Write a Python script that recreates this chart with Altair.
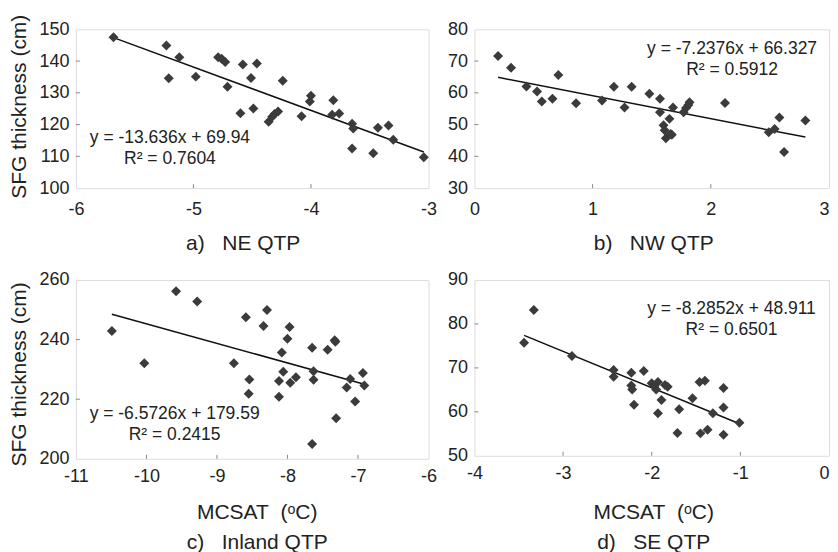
import altair as alt
import pandas as pd

FONT = "Liberation Sans"
INK = "#222222"
PT = "#3b3b3b"
NB = "\u00a0"

# ---- data ----
a_x = [-5.68, -5.23, -5.21, -5.12, -4.98, -4.79, -4.76, -4.73, -4.71, -4.60, -4.58,
       -4.51, -4.49, -4.46, -4.36, -4.33, -4.31, -4.28, -4.24, -4.08, -4.00, -4.01,
       -3.81, -3.82, -3.76, -3.65, -3.64, -3.65, -3.47, -3.43, -3.34, -3.30, -3.04]
a_y = [147.5, 144.9, 134.6, 141.2, 135.1, 141.2, 140.7, 139.7, 131.9, 123.6, 138.9,
       134.7, 125.1, 139.2, 120.9, 122.5, 123.3, 124.1, 133.8, 122.6, 129.1, 127.3,
       127.7, 123.1, 123.5, 120.3, 118.8, 112.5, 111.0, 119.0, 119.7, 115.2, 109.7]

b_x = [0.20, 0.31, 0.44, 0.53, 0.57, 0.66, 0.71, 0.86, 1.08, 1.18, 1.27, 1.33, 1.48,
       1.57, 1.57, 1.60, 1.61, 1.62, 1.65, 1.66, 1.67, 1.68, 1.77, 1.79, 1.81, 1.82,
       2.12, 2.49, 2.54, 2.58, 2.62, 2.80]
b_y = [71.6, 67.9, 62.0, 60.4, 57.3, 58.1, 65.6, 56.7, 57.6, 61.9, 55.4, 61.9, 59.7,
       58.1, 53.9, 49.8, 48.2, 45.7, 51.8, 47.0, 46.8, 55.4, 53.9, 55.2, 56.2, 57.0,
       56.8, 47.6, 48.6, 52.2, 41.4, 51.3]

c_x = [-10.49, -10.03, -9.58, -9.28, -8.76, -8.59, -8.54, -8.55, -8.34, -8.29, -8.12,
       -8.12, -8.08, -8.06, -8.00, -7.97, -7.96, -7.88, -7.65, -7.63, -7.63, -7.65,
       -7.43, -7.33, -7.32, -7.31, -7.16, -7.11, -7.04, -6.93, -6.91]
c_y = [242.9, 232.1, 256.2, 252.8, 232.1, 247.5, 226.6, 221.8, 244.6, 249.9, 226.1,
       220.8, 235.7, 229.2, 240.3, 244.2, 225.5, 227.4, 237.3, 229.4, 226.5, 205.0,
       236.6, 239.8, 239.3, 213.6, 223.9, 226.8, 219.2, 228.8, 224.6]

d_x = [-3.44, -3.33, -2.90, -2.43, -2.43, -2.23, -2.23, -2.22, -2.20, -2.09, -2.00,
       -1.97, -1.95, -1.93, -1.93, -1.89, -1.85, -1.82, -1.69, -1.71, -1.54, -1.46,
       -1.40, -1.45, -1.37, -1.31, -1.19, -1.19, -1.19, -1.01]
d_y = [75.7, 83.2, 72.7, 69.5, 68.0, 68.9, 66.0, 65.1, 61.6, 69.3, 66.5, 65.9, 65.1,
       66.8, 59.7, 62.7, 66.1, 65.7, 60.6, 55.2, 63.1, 66.8, 67.1, 55.1, 55.9, 59.7,
       65.4, 61.0, 54.8, 57.5]

# regression equations as printed on the figure
a_fit = (-13.636, 69.94, "y = -13.636x + 69.94", "R² = 0.7604")
b_fit = (-7.2376, 66.327, "y = -7.2376x + 66.327", "R² = 0.5912")
c_fit = (-6.5726, 179.59, "y = -6.5726x + 179.59", "R² = 0.2415")
d_fit = (-8.2852, 48.911, "y = -8.2852x + 48.911", "R² = 0.6501")

a_xt = [-6, -5, -4, -3]; a_yt = [100, 110, 120, 130, 140, 150]
b_xt = [0, 1, 2, 3];     b_yt = [30, 40, 50, 60, 70, 80]
c_xt = [-11, -10, -9, -8, -7, -6]; c_yt = [200, 220, 240, 260]
d_xt = [-4, -3, -2, -1, 0]; d_yt = [50, 60, 70, 80, 90]

YTITLE = "SFG thickness (cm)"
XT = "MCSAT" + NB * 2 + "(ᵒC)"


def panel(xs, ys, fit, xt, yt, w, h, xtitle, title_x, title_y, lab_pad_x,
          ytitle, ytitle_y, tx, ty, right_edge):
    slope, icpt, eq, r2 = fit
    df = pd.DataFrame({"x": xs, "y": ys})
    xscale = alt.Scale(domain=[xt[0], xt[-1]], nice=False, zero=False)
    yscale = alt.Scale(domain=[yt[0], yt[-1]], nice=False, zero=False)
    lab_align = ({"expr": f"datum.value == {xt[-1]} ? 'right' : 'center'"}
                 if right_edge else "center")
    xaxis = alt.Axis(values=xt, ticks=False, domain=False, grid=False,
                     labelExpr="datum.value + ''", labelFont=FONT, labelFontSize=18,
                     labelColor=INK, labelPadding=lab_pad_x, labelFlush=False,
                     labelAlign=lab_align,
                     labelOverlap=False, title=xtitle, titleFont=FONT,
                     titleFontSize=21, titleFontWeight="normal", titleColor=INK,
                     titleX=title_x, titleY=title_y, titleAlign="center",
                     titleBaseline="alphabetic", titleLineHeight=30)
    yargs = dict(values=yt, ticks=False, domain=False, grid=False,
                 labelExpr="datum.value + ''", labelFont=FONT, labelFontSize=18,
                 labelColor=INK, labelPadding=7, labelOverlap=False)
    if ytitle:
        yaxis = alt.Axis(title=ytitle, titleFont=FONT, titleFontSize=21,
                         titleFontWeight="normal", titleColor=INK, titleX=-50,
                         titleY=ytitle_y, titleAngle=270, titleAlign="center",
                         titleBaseline="alphabetic", **yargs)
    else:
        yaxis = alt.Axis(title=None, **yargs)
    X = alt.X("x:Q", scale=xscale, axis=xaxis)
    Y = alt.Y("y:Q", scale=yscale, axis=yaxis)

    pts = alt.Chart(df).mark_point(shape="diamond", filled=True, size=100,
                                   color=PT, opacity=1).encode(x=X, y=Y)
    x0, x1 = min(xs), max(xs)
    ldf = pd.DataFrame({"x": [x0, x1], "y": [slope * x0 + icpt, slope * x1 + icpt]})
    line = alt.Chart(ldf).mark_line(color="#111111", strokeWidth=1.5).encode(x=X, y=Y)
    t1 = pd.DataFrame({"x": [tx], "y": [ty], "t": [eq]})
    t2 = pd.DataFrame({"x": [tx], "y": [ty], "t": [r2]})
    txt1 = alt.Chart(t1).mark_text(font=FONT, fontSize=17.5, color=INK, align="center",
                                   baseline="alphabetic").encode(x=X, y=Y, text="t:N")
    txt2 = alt.Chart(t2).mark_text(font=FONT, fontSize=17.5, color=INK, align="center",
                                   baseline="alphabetic", dy=21).encode(x=X, y=Y, text="t:N")
    xtdf = pd.DataFrame({"x": xt[1:-1]})
    ytdf = pd.DataFrame({"y": yt[1:-1]})
    xticks = alt.Chart(xtdf).mark_rule(color="#888888", strokeWidth=1).encode(
        x=X, y=alt.value(h), y2=alt.value(h - 4))
    yticks = alt.Chart(ytdf).mark_rule(color="#888888", strokeWidth=1).encode(
        y=Y, x=alt.value(0), x2=alt.value(4))
    return alt.layer(xticks, yticks, line, pts, txt1, txt2).properties(width=w, height=h)


pa = panel(a_x, a_y, a_fit, a_xt, a_yt, 353, 159,
           "a)" + NB * 3 + "NE QTP", 167, 61, 12, YTITLE, 77, -5.2, 114.2, False)
pb = panel(b_x, b_y, b_fit, b_xt, b_yt, 355, 159,
           "b)" + NB * 3 + "NW QTP", 179, 61, 12, None, 0, 2.18, 72.1, True)
pc = panel(c_x, c_y, c_fit, c_xt, c_yt, 353, 179,
           [XT, "c)" + NB * 3 + "Inland QTP"], 181, 60, 9, YTITLE, 94, -9.6, 213.5, False)
pd_ = panel(d_x, d_y, d_fit, d_xt, d_yt, 355, 176,
            [XT, "d)" + NB * 3 + "SE QTP"], 179, 63, 9, None, 0, -1.1, 82.3, True)

chart = alt.concat(pa, pb, pc, pd_, columns=2, spacing={"row": 92, "column": 46},
                   bounds="flush").properties(
    padding={"left": 0, "top": 5, "right": 0, "bottom": 0}
).configure_view(stroke=INK, strokeWidth=2).configure(background="white")

chart.save("out.html", embed_options={"renderer": "svg", "actions": False})
